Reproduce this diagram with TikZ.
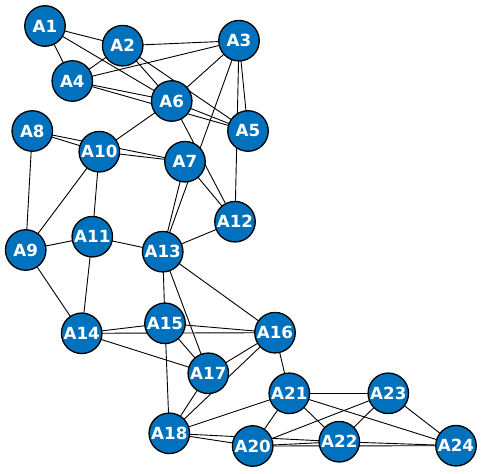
\documentclass[tikz,border=0pt]{standalone}
\usepackage{fontspec}
\setmainfont{DejaVu Sans}
\definecolor{nodeblue}{RGB}{0,114,189}
\pgfdeclarelayer{background}
\pgfsetlayers{background,main}
\begin{document}
\begin{tikzpicture}[x=1pt,y=-1pt,
  vtx/.style={circle,draw=black,line width=1.3pt,fill=nodeblue,minimum size=40.5pt,inner sep=0pt,
    text=white,font=\fontsize{16.7}{18}\selectfont\bfseries},
  edge/.style={draw=black,line width=0.9pt}]
\useasboundingbox (0,0) rectangle (481,473);
\node[vtx] (A1) at (45,26) {A1};
\node[vtx] (A2) at (122.7,45.7) {A2};
\node[vtx] (A3) at (239,40.7) {A3};
\node[vtx] (A4) at (72.3,81) {A4};
\node[vtx] (A5) at (248,131) {A5};
\node[vtx] (A6) at (171.7,101) {A6};
\node[vtx] (A7) at (185,161.7) {A7};
\node[vtx] (A8) at (32.3,131) {A8};
\node[vtx] (A9) at (25.7,250) {A9};
\node[vtx] (A10) at (99.3,151.7) {A10};
\node[vtx] (A11) at (92.3,236.7) {A11};
\node[vtx] (A12) at (235,221.7) {A12};
\node[vtx] (A13) at (162.7,251.7) {A13};
\node[vtx] (A14) at (81.7,333.3) {A14};
\node[vtx] (A15) at (165,323.3) {A15};
\node[vtx] (A16) at (275,332.7) {A16};
\node[vtx] (A17) at (208.3,373.3) {A17};
\node[vtx] (A18) at (169.3,433.3) {A18};
\node[vtx] (A20) at (252.7,446) {A20};
\node[vtx] (A21) at (289.3,393.3) {A21};
\node[vtx] (A22) at (339.3,441.7) {A22};
\node[vtx] (A23) at (388.3,393.3) {A23};
\node[vtx] (A24) at (456,445.7) {A24};
\begin{pgfonlayer}{background}
\foreach \a/\b in {A1/A4,A1/A2,A1/A6,A2/A4,A2/A3,A4/A3,A2/A6,A2/A5,A4/A6,A4/A5,A6/A5,A3/A6,A3/A13,A3/A5,A3/A12,A6/A10,A6/A12,A8/A10,A8/A7,A10/A7,A8/A9,A10/A9,A10/A11,A9/A11,A11/A13,A7/A13,A7/A12,A12/A13,A13/A16,A13/A15,A13/A17,A11/A14,A9/A14,A14/A15,A14/A16,A15/A16,A14/A17,A15/A17,A15/A18,A17/A16,A18/A16,A17/A18,A16/A21,A18/A21,A18/A20,A18/A22,A21/A20,A21/A22,A21/A23,A21/A24,A23/A20,A23/A22,A23/A24,A20/A22,A20/A24,A22/A24}
  \draw[edge] (\a.center) -- (\b.center);
\end{pgfonlayer}
\end{tikzpicture}
\end{document}
